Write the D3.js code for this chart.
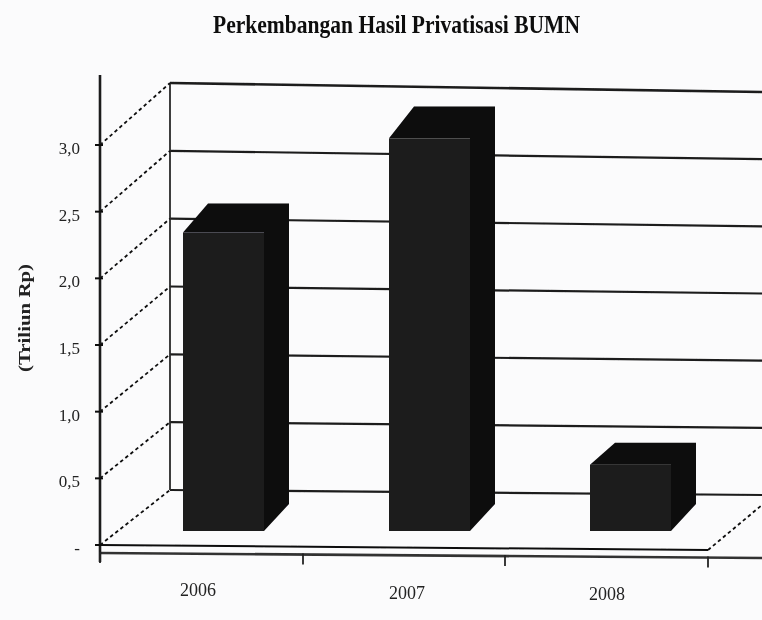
<!DOCTYPE html>
<html><head><meta charset="utf-8">
<script src="https://cdn.jsdelivr.net/npm/d3@7"></script>
<style>html,body{margin:0;padding:0;background:#fbfbfc}svg{display:block}</style>
</head><body><svg id="c" width="762" height="620"></svg>
<script>
const categories = ["2006","2007","2008"];
const values = [2.25,2.96,0.5];
const tickValues = [0,0.5,1,1.5,2,2.5,3];
const tickLabels = ["-","0,5","1,0","1,5","2,0","2,5","3,0"];
const title = "Perkembangan Hasil Privatisasi BUMN";
const yTitle = "(Triliun Rp)";

const svg = d3.select("#c");
const serif = "'Liberation Serif',serif";
const dom = [0,3];
const yFront = d3.scaleLinear(dom,[545,145]);
const yBack  = d3.scaleLinear(dom,[490,83]);
const yRight = d3.scaleLinear(dom,[495,92]);
const yBar   = d3.scaleLinear(dom,[0,398]);
const depthTop = d3.scaleLinear([0.5,3],[22,32]);
const xBar   = d3.scaleOrdinal(categories,[183,389,590]);
const xLabel = d3.scaleOrdinal(categories,[198,407,607]);
const yLabel = d3.scaleOrdinal(categories,[596,599,600]);
const X0=100, XB=170, XR=762, XF=708;

svg.append("rect").attr("width",762).attr("height",620).attr("fill","#fbfbfc");
const defs = svg.append("defs");
[["soft",0.5],["softText",0.45]].forEach(([id,s])=>{
  defs.append("filter").attr("id",id).attr("x","-5%").attr("y","-5%").attr("width","110%").attr("height","110%")
   .append("feGaussianBlur").attr("stdDeviation",s);
});
const g = svg.append("g").attr("filter","url(#soft)");

// back wall
g.selectAll(".grid").data(tickValues).join("line").attr("class","grid")
 .attr("x1",XB).attr("x2",XR).attr("y1",d=>yBack(d)).attr("y2",d=>yRight(d))
 .attr("stroke","#1c1c1c").attr("stroke-width",d=>d===3?2.6:2.2);
g.append("line").attr("x1",XB).attr("x2",XB).attr("y1",yBack(3)).attr("y2",yBack(0))
 .attr("stroke","#2a2a2a").attr("stroke-width",1.8);
// dotted side wall
g.selectAll(".side").data(tickValues).join("line").attr("class","side")
 .attr("x1",X0).attr("x2",XB).attr("y1",d=>yFront(d)).attr("y2",d=>yBack(d))
 .attr("stroke","#111").attr("stroke-width",1.8).attr("stroke-dasharray","3.5 3");
g.append("line").attr("x1",XF).attr("x2",XR).attr("y1",550).attr("y2",505)
 .attr("stroke","#111").attr("stroke-width",1.8).attr("stroke-dasharray","3.5 3");

// floor + axes
g.append("line").attr("x1",X0).attr("x2",XF).attr("y1",yFront(0)).attr("y2",550).attr("stroke","#111").attr("stroke-width",2);
g.append("line").attr("x1",X0).attr("x2",XR).attr("y1",553).attr("y2",558).attr("stroke","#333").attr("stroke-width",2.6);
g.append("line").attr("x1",X0).attr("x2",X0).attr("y1",75).attr("y2",562).attr("stroke","#1c1c1c").attr("stroke-width",2.6);
g.selectAll(".ty").data(tickValues).join("line").attr("class","ty")
 .attr("x1",X0-5).attr("x2",X0+3).attr("y1",d=>yFront(d)).attr("y2",d=>yFront(d)).attr("stroke","#111").attr("stroke-width",2);
const tickX = [100,303,505,708];
g.selectAll(".tx").data(tickX).join("line").attr("class","tx")
 .attr("x1",d=>d).attr("x2",d=>d).attr("y1",d=>553+(d-100)*5/662-1).attr("y2",d=>553+(d-100)*5/662+10).attr("stroke","#222").attr("stroke-width",1.8);

// bars
const barW=81, depthX=25, depthY=27, base=531;
const bars = g.selectAll(".bar").data(categories.map((c,i)=>({c,v:values[i]}))).join("g").attr("class","bar");
bars.append("path").attr("fill","#0b0a0c").attr("d",d=>{
  const l=xBar(d.c), r=l+barW, t=base-yBar(d.v), dt=depthTop(d.v);
  return `M${l},${t}L${l+depthX},${t-dt}L${r+depthX},${t-dt}L${r+depthX},${base-depthY}L${r},${base}L${r},${t}Z`;
});
bars.append("rect").attr("fill","#1c1a1e")
 .attr("x",d=>xBar(d.c)).attr("width",barW)
 .attr("y",d=>base-yBar(d.v)).attr("height",d=>yBar(d.v));

// text
const t = svg.append("g").attr("font-family",serif).attr("fill","#222").attr("filter","url(#softText)");
t.append("text").text(title).attr("x",213).attr("y",33).attr("font-weight","bold").attr("font-size",25)
 .attr("textLength",367).attr("lengthAdjust","spacingAndGlyphs").attr("fill","#111");
t.selectAll(".yl").data(tickValues).join("text").attr("class","yl")
 .text((d,i)=>tickLabels[i]).attr("text-anchor","end").attr("x",80).attr("y",d=>yFront(d)+9).attr("font-size",17);
t.append("text").text(yTitle).attr("transform","translate(30,318) rotate(-90)").attr("text-anchor","middle")
 .attr("font-size",16).attr("font-weight","bold").attr("textLength",108).attr("lengthAdjust","spacingAndGlyphs");
t.selectAll(".xl").data(categories).join("text").attr("class","xl").text(d=>d)
 .attr("x",d=>xLabel(d)).attr("y",d=>yLabel(d))
 .attr("text-anchor","middle").attr("font-size",18);
</script></body></html>
